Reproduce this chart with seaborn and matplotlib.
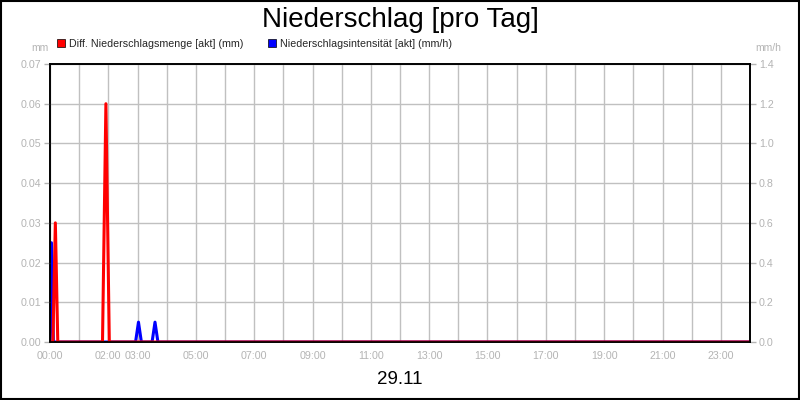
import matplotlib
matplotlib.use("Agg")
import matplotlib.pyplot as plt
from matplotlib.lines import Line2D
from matplotlib.patches import Rectangle
import seaborn as sns
import pandas as pd

# Data (times as HH:MM)
red_times = ["00:00", "00:06", "00:11", "00:16", "01:48", "01:55", "02:02", "24:00"]
red_values = [0.0, 0.0, 0.03, 0.0, 0.0, 0.06, 0.0, 0.0]          # mm
blue_times = ["00:00", "00:03", "00:07", "02:56", "03:02", "03:08",
              "03:30", "03:36", "03:42", "24:00"]
blue_values = [0.0, 0.5, 0.0, 0.0, 0.1, 0.0, 0.0, 0.1, 0.0, 0.0]  # mm/h
hour_labels = ["00:00", "02:00", "03:00", "05:00", "07:00", "09:00", "11:00",
               "13:00", "15:00", "17:00", "19:00", "21:00", "23:00"]
left_ticks = [0.00, 0.01, 0.02, 0.03, 0.04, 0.05, 0.06, 0.07]
right_ticks = [0.0, 0.2, 0.4, 0.6, 0.8, 1.0, 1.2, 1.4]
title = "Niederschlag [pro Tag]"
date_label = "29.11"
red_name = "Diff. Niederschlagsmenge [akt] (mm)"
blue_name = "Niederschlagsintensität [akt] (mm/h)"


def to_hours(t):
    h, m = t.split(":")
    return int(h) + int(m) / 60.0


red_df = pd.DataFrame({"h": [to_hours(t) for t in red_times], "v": red_values})
blue_df = pd.DataFrame({"h": [to_hours(t) for t in blue_times], "v": blue_values})

sns.set_theme(style="white")
plt.rcParams["font.family"] = ["Liberation Sans", "DejaVu Sans"]

fig = plt.figure(figsize=(8, 4), dpi=100)
ax = fig.add_axes([50 / 800, 1 - 342 / 400, 700 / 800, 278 / 400])
ax2 = ax.twinx()

grey = "#b4b4b4"
sns.lineplot(data=blue_df, x="h", y="v", ax=ax, color="#0000ff", lw=2.2)
sns.lineplot(data=red_df, x="h", y="v", ax=ax2, color="#ff0000", lw=2.2)

ax.set_xlim(0, 24)
ax.set_ylim(0, 1.4)
ax2.set_ylim(0, 0.07)

ax.yaxis.tick_right()
ax2.yaxis.tick_left()
ax.set_yticks(right_ticks)
ax.set_yticklabels([f"{v:.1f}" for v in right_ticks])
ax2.set_yticks(left_ticks)
ax2.set_yticklabels([f"{v:.2f}" for v in left_ticks])

hours = list(range(0, 25))
ax.set_xticks(hours)
lab = []
for h in hours:
    s = f"{h:02d}:00"
    lab.append(s if s in hour_labels else "")
ax.set_xticklabels(lab)

ax.grid(True, color="#c0c0c0", lw=1)
ax.set_axisbelow(True)
for a in (ax, ax2):
    a.set_xlabel("")
    a.set_ylabel("")
    for sp in a.spines.values():
        sp.set_color("black")
        sp.set_linewidth(1.2)
    a.tick_params(axis="both", colors=grey, labelcolor=grey, labelsize=7.7,
                  length=4, width=1, direction="out", pad=2.5)
    a.tick_params(axis="y", left=(a is ax2), right=(a is ax),
                  labelleft=(a is ax2), labelright=(a is ax))

# texts
fig.text(0.5, 1 - 27 / 400, title, ha="center", va="baseline", fontsize=20, color="black")
fig.text(0.5, 1 - 384 / 400, date_label, ha="center", va="baseline", fontsize=13.5, color="black")
fig.text(40 / 800, 1 - 48 / 400, "mm", ha="center", va="center", fontsize=7.5, color=grey)
fig.text(768 / 800, 1 - 48 / 400, "mm/h", ha="center", va="center", fontsize=7.5, color=grey)

handles = [Line2D([], [], marker="s", ls="", color="#ff0000", markeredgecolor="black",
                  markeredgewidth=0.5, markersize=6),
           Line2D([], [], marker="s", ls="", color="#0000ff", markeredgecolor="black",
                  markeredgewidth=0.5, markersize=6)]
fig.legend(handles, [red_name, blue_name], loc="center left",
           bbox_to_anchor=(57 / 800, 1 - 44 / 400), ncol=2, frameon=False,
           fontsize=7.7, handlelength=0.8, handletextpad=0.3, columnspacing=2.3,
           borderpad=0, borderaxespad=0)

fig.patches.append(Rectangle((0.001, 0.002), 0.998, 0.996, transform=fig.transFigure,
                             fill=False, edgecolor="black", lw=1.5))

fig.savefig("out.png", dpi=100, facecolor="white")
